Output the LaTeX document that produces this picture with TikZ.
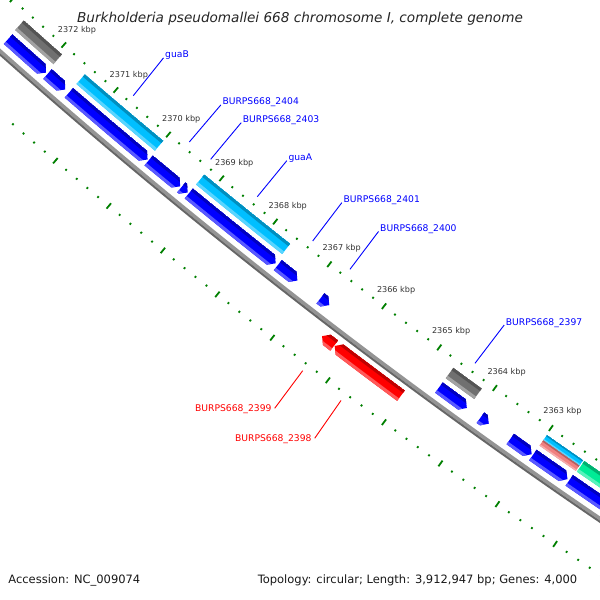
\documentclass[tikz,border=0pt]{standalone}
\usepackage{fontspec}
\setmainfont{DejaVu Sans}
\usepackage{xcolor}
\usepackage{tikz}

\definecolor{cdsblue}{RGB}{0,0,255}
\definecolor{cdsred}{RGB}{255,0,0}
\definecolor{genecyan}{RGB}{0,191,255}
\definecolor{genegray}{RGB}{112,112,112}
\definecolor{genepink}{RGB}{240,128,128}
\definecolor{genegreen}{RGB}{0,235,150}
\definecolor{rulergreen}{RGB}{0,128,0}

% filled piece of a ring: angle from, angle to, inner r, outer r, colour
\newcommand{\ringpart}[5]{%
  \fill[#5] (#1:#3) arc[start angle=#1, end angle=#2, radius=#3]
    -- (#2:#4) arc[start angle=#2, end angle=#1, radius=#4] -- cycle;}

% slot shading, dark inner edge and light outer edge
\newcommand{\slotshade}[5]{%
  \pgfmathsetmacro{\pA}{#1-0.1}\pgfmathsetmacro{\pB}{#2+0.1}%
  \pgfmathsetmacro{\rQ}{#3+0.24*(#4-#3)}\pgfmathsetmacro{\rW}{#4-0.24*(#4-#3)}%
  \ringpart{\pA}{\pB}{#3}{#4}{#5}%
  \ringpart{\pA}{\pB}{#3}{\rQ}{#5!75!black}%
  \ringpart{\pA}{\pB}{\rW}{#4}{#5!65!white}}

% gene box: from kbp, to kbp, inner r, outer r, colour
\newcommand{\genebox}[5]{%
  \pgfmathsetmacro{\aS}{kpos(#1)}\pgfmathsetmacro{\aE}{kpos(#2)}%
  \begin{scope}
    \clip (\aS:#3) arc[start angle=\aS, end angle=\aE, radius=#3]
      -- (\aE:#4) arc[start angle=\aE, end angle=\aS, radius=#4] -- cycle;
    \slotshade{\aS}{\aE}{#3}{#4}{#5}
  \end{scope}}

% CDS on reverse strand, tip at #2
\newcommand{\cdsrev}[5]{%
  \pgfmathsetmacro{\aS}{kpos(#1)}\pgfmathsetmacro{\aE}{kpos(#2)}%
  \pgfmathsetmacro{\aH}{max(\aS,\aE-0.06)}\pgfmathsetmacro{\rM}{(#3+#4)/2}%
  \begin{scope}
    \clip (\aS:#3) arc[start angle=\aS, end angle=\aH, radius=#3] -- (\aE:\rM)
      -- (\aH:#4) arc[start angle=\aH, end angle=\aS, radius=#4] -- cycle;
    \slotshade{\aS}{\aE}{#3}{#4}{#5}
  \end{scope}}

% CDS on forward strand, tip at #1
\newcommand{\cdsfwd}[5]{%
  \pgfmathsetmacro{\aS}{kpos(#1)}\pgfmathsetmacro{\aE}{kpos(#2)}%
  \pgfmathsetmacro{\aH}{min(\aE,\aS+0.06)}\pgfmathsetmacro{\rM}{(#3+#4)/2}%
  \begin{scope}
    \clip (\aS:\rM) -- (\aH:#3) arc[start angle=\aH, end angle=\aE, radius=#3]
      -- (\aE:#4) arc[start angle=\aE, end angle=\aH, radius=#4] -- cycle;
    \slotshade{\aS}{\aE}{#3}{#4}{#5}
  \end{scope}}

\begin{document}
\begin{tikzpicture}[
    x=1bp, y=1bp,
    declare function={kpos(\k)=228.78+(2372-\k)*0.678;},
    longtick/.style={rulergreen, line width=1.8bp},
    dottick/.style={rulergreen, line width=1.8bp},
    ticklbl/.style={font=\fontsize{8.1bp}{9bp}\selectfont, text=black!80, inner sep=0pt},
    bluelbl/.style={font=\fontsize{9.2bp}{10bp}\selectfont, text=cdsblue, anchor=base west, inner xsep=1.5bp, inner ysep=0.5bp},
    redlbl/.style={font=\fontsize{9.2bp}{10bp}\selectfont, text=cdsred, anchor=base east, inner xsep=3bp, inner ysep=0.5bp, text depth=0pt},
    foot/.style={font=\fontsize{11.5bp}{13bp}\selectfont, text=black!90, inner sep=0pt},
    leader/.style={line width=0.9bp}
]

\useasboundingbox (0,0) rectangle (600,-600);
\clip (0,0) rectangle (600,-600);
\fill[white] (0,0) rectangle (600,-600);

\begin{scope}[shift={(3900,4334)}]
% Rulers
\foreach \k in {2361,...,2373} {
  \draw[longtick] ({kpos(\k)}:5818.5) -- ({kpos(\k)}:5825.5);
  \foreach \j in {1,...,4}
    \draw[dottick] ({kpos(\k+0.2*\j)}:5821) -- ({kpos(\k+0.2*\j)}:5823);
}
\foreach \k in {2361,...,2371} {
  \draw[longtick] ({kpos(\k)}:5911.5) -- ({kpos(\k)}:5918.5);
  \foreach \j in {1,...,4}
    \draw[dottick] ({kpos(\k+0.2*\j)}:5914) -- ({kpos(\k+0.2*\j)}:5916);
}
\foreach \k in {2363,...,2372}
  \node[ticklbl] (t\k) at ({kpos(\k)}:5802) {\k\ kbp};

% Backbone
\ringpart{227}{238}{5866.5}{5870}{black!42}
\ringpart{227}{238}{5870}{5872}{black!60}

% Genes
\genebox{2372.67}{2371.93}{5830}{5843}{genegray}
\genebox{2371.49}{2370.00}{5830}{5843}{genecyan}
\genebox{2369.23}{2367.63}{5830}{5843}{genecyan}
\genebox{2364.66}{2364.15}{5830}{5843}{genegray}
\genebox{2362.99}{2362.35}{5830}{5836.5}{genecyan}
\genebox{2362.99}{2362.35}{5836.5}{5843}{genepink}
\genebox{2362.33}{2360.00}{5830}{5843}{genegreen}

% CDS, reverse strand
\cdsrev{2372.66}{2371.93}{5848}{5861}{cdsblue}
\cdsrev{2371.90}{2371.56}{5848}{5861}{cdsblue}
\cdsrev{2371.49}{2370.00}{5848}{5861}{cdsblue}
\cdsrev{2369.98}{2369.39}{5848}{5861}{cdsblue}
\cdsrev{2369.37}{2369.25}{5848}{5861}{cdsblue}
\cdsrev{2369.23}{2367.62}{5848}{5861}{cdsblue}
\cdsrev{2367.58}{2367.22}{5848}{5861}{cdsblue}
\cdsrev{2366.80}{2366.64}{5848}{5861}{cdsblue}
\cdsrev{2364.66}{2364.16}{5848}{5861}{cdsblue}
\cdsrev{2363.92}{2363.77}{5848}{5861}{cdsblue}
\cdsrev{2363.39}{2363.01}{5848}{5861}{cdsblue}
\cdsrev{2362.99}{2362.38}{5848}{5861}{cdsblue}
\cdsrev{2362.35}{2360.00}{5848}{5861}{cdsblue}

% CDS, forward strand
\cdsfwd{2366.45}{2366.23}{5877}{5890}{cdsred}
\cdsfwd{2366.22}{2365.03}{5877}{5890}{cdsred}
\end{scope}

% Title and footer
\node[font=\fontsize{13.6bp}{16bp}\selectfont\itshape, text=black!85, anchor=base, inner sep=0pt] (title) at (300,-22.7)
  {Burkholderia pseudomallei 668 chromosome I, complete genome};
\node[foot, anchor=base west] (acc) at (8.2,-583) {Accession: NC\_009074};
\node[foot, anchor=base east] (topo) at (577.5,-583) {Topology: circular; Length: 3,912,947 bp; Genes: 4,000};

% Labels
\node[bluelbl] (lguaB) at (163.5,-57.9) {guaB};
\node[bluelbl] (l2404) at (220.8,-105) {BURPS668\_2404};
\node[bluelbl] (l2403) at (241.2,-122.7) {BURPS668\_2403};
\node[bluelbl] (lguaA) at (286.8,-160.7) {guaA};
\node[bluelbl] (l2401) at (341.8,-202.7) {BURPS668\_2401};
\node[bluelbl] (l2400) at (378.5,-231.5) {BURPS668\_2400};
\node[bluelbl] (l2397) at (504.2,-325) {BURPS668\_2397};
\node[redlbl] (l2399) at (274.7,-411.7) {BURPS668\_2399};
\node[redlbl] (l2398) at (314.7,-441.7) {BURPS668\_2398};

% Leaders
\coordinate (pguaB) at (133.3,-95.7);
\coordinate (p2404) at (189.3,-142);
\coordinate (p2403) at (210.7,-159.3);
\coordinate (pguaA) at (257.3,-196.7);
\coordinate (p2401) at (312.7,-241);
\coordinate (p2400) at (350,-269.3);
\coordinate (p2397) at (475,-363.3);
\coordinate (p2399) at (302.7,-370.7);
\coordinate (p2398) at (341,-400.5);

\draw[leader, cdsblue] (pguaB) -- (lguaB.base west);
\draw[leader, cdsblue] (p2404) -- (l2404.base west);
\draw[leader, cdsblue] (p2403) -- (l2403.base west);
\draw[leader, cdsblue] (pguaA) -- (lguaA.base west);
\draw[leader, cdsblue] (p2401) -- (l2401.base west);
\draw[leader, cdsblue] (p2400) -- (l2400.base west);
\draw[leader, cdsblue] (p2397) -- (l2397.base west);
\draw[leader, cdsred] (p2399) -- (l2399.east);
\draw[leader, cdsred] (p2398) -- (l2398.east);

\end{tikzpicture}
\end{document}
